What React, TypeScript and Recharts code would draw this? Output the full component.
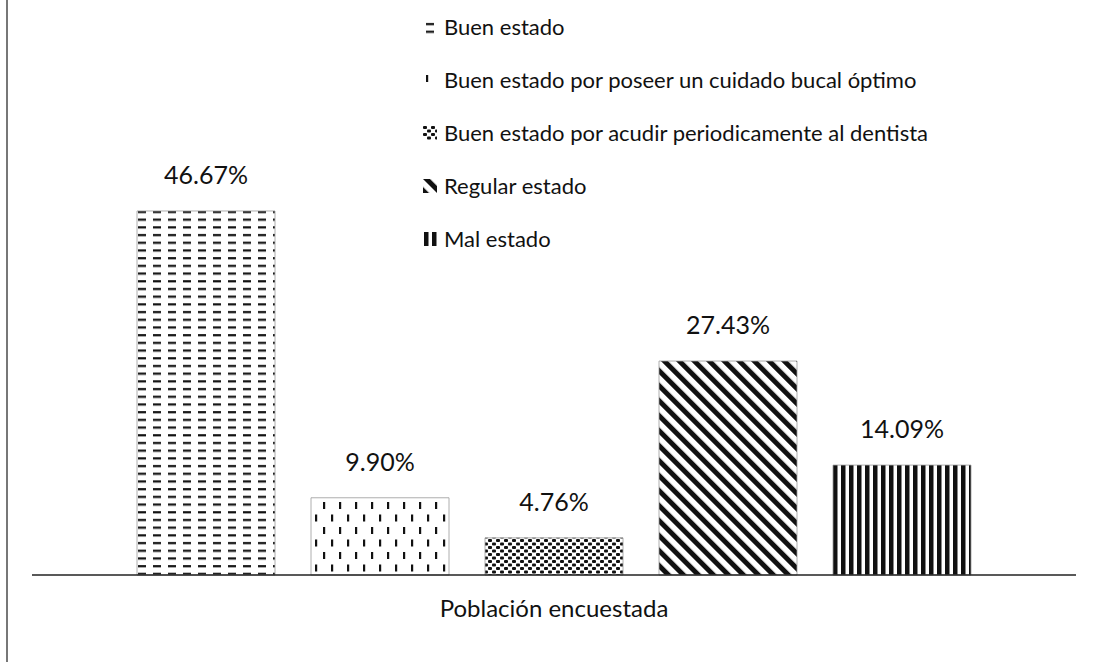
import React from 'react';
import { BarChart, Bar, XAxis, YAxis, Legend, LabelList } from 'recharts';

const categories = ['Población encuestada'];
const seriesNames = [
  'Buen estado',
  'Buen estado por poseer un cuidado bucal óptimo',
  'Buen estado por acudir periodicamente al dentista',
  'Regular estado',
  'Mal estado',
];
const seriesValues = [46.67, 9.9, 4.76, 27.43, 14.09];
const patternIds = ['pDash', 'pVdash', 'pDots', 'pDiag', 'pVert'];

const data = categories.map((name) => {
  const row: Record<string, string | number> = { name };
  seriesNames.forEach((s, i) => {
    row[`s${i}`] = seriesValues[i];
  });
  return row;
});

const FONT = 'Lato, "Open Sans", sans-serif';

const Patterns = () => (
  <svg width={0} height={0} style={{ position: 'absolute' }}>
    <defs>
      <pattern id="pDash" width={15} height={7.7} patternUnits="userSpaceOnUse">
        <rect width={15} height={7.7} fill="#fff" />
        <rect x={3} y={3} width={8} height={2.2} fill="#111" />
      </pattern>
      <pattern id="pVdash" width={16} height={25} patternUnits="userSpaceOnUse">
        <rect width={16} height={25} fill="#fff" />
        <rect x={3} y={2} width={2.2} height={7} fill="#111" />
        <rect x={11} y={14.5} width={2.2} height={7} fill="#111" />
      </pattern>
      <pattern id="pDots" width={8} height={7} patternUnits="userSpaceOnUse">
        <rect width={8} height={7} fill="#fff" />
        <rect x={0} y={0} width={4} height={3} rx={1} fill="#111" />
        <rect x={4} y={3.5} width={4} height={3} rx={1} fill="#111" />
      </pattern>
      <pattern id="pDiag" width={10.6} height={10.6} patternUnits="userSpaceOnUse" patternTransform="rotate(-45)">
        <rect width={10.6} height={10.6} fill="#fff" />
        <rect x={0} y={0} width={5} height={10.6} fill="#111" />
      </pattern>
      <pattern id="pVert" width={8} height={10} patternUnits="userSpaceOnUse">
        <rect width={8} height={10} fill="#fff" />
        <rect x={1} y={0} width={4.5} height={10} fill="#111" />
      </pattern>
    </defs>
  </svg>
);

const LegendContent = () => (
  <div style={{ fontFamily: FONT, fontSize: 22, color: '#111' }}>
    {seriesNames.map((n, i) => (
      <div key={n} style={{ display: 'flex', alignItems: 'center', height: 53 }}>
        <svg width={14} height={14} style={{ marginRight: 7 }}>
          <rect width={14} height={14} fill={`url(#${patternIds[i]})`} />
        </svg>
        <span>{n}</span>
      </div>
    ))}
  </div>
);

export default function App() {
  return (
    <div style={{ position: 'relative', width: 1116, height: 662, background: '#fff' }}>
      <style>{`body{margin:0;background:#fff}`}</style>
      <Patterns />
      <div style={{ position: 'absolute', left: 6, top: 0, width: 2, height: 662, background: '#777' }} />
      <BarChart
        width={1116}
        height={662}
        data={data}
        margin={{ top: 185, right: 40, bottom: 27, left: 32 }}
        barCategoryGap={105}
        barGap={36}
      >
        <XAxis
          dataKey="name"
          height={60}
          tickLine={false}
          tickMargin={19}
          stroke="#222"
          strokeWidth={1.5}
          tick={{ fontSize: 24, fill: '#111', fontFamily: FONT }}
        />
        <YAxis hide domain={[0, 50]} />
        <Legend
          layout="vertical"
          verticalAlign="middle"
          align="center"
          content={<LegendContent />}
          wrapperStyle={{ top: 0, left: 423, width: 'auto', height: 'auto' }}
        />
        {seriesNames.map((n, i) => (
          <Bar
            key={n}
            dataKey={`s${i}`}
            name={n}
            fill={`url(#${patternIds[i]})`}
            stroke="#999"
            strokeWidth={0.8}
            isAnimationActive={false}
          >
            <LabelList
              dataKey={`s${i}`}
              position="top"
              offset={27}
              formatter={(v: number) => `${v.toFixed(2)}%`}
              style={{ fontSize: 25, fill: '#111', fontFamily: FONT }}
            />
          </Bar>
        ))}
      </BarChart>
    </div>
  );
}
